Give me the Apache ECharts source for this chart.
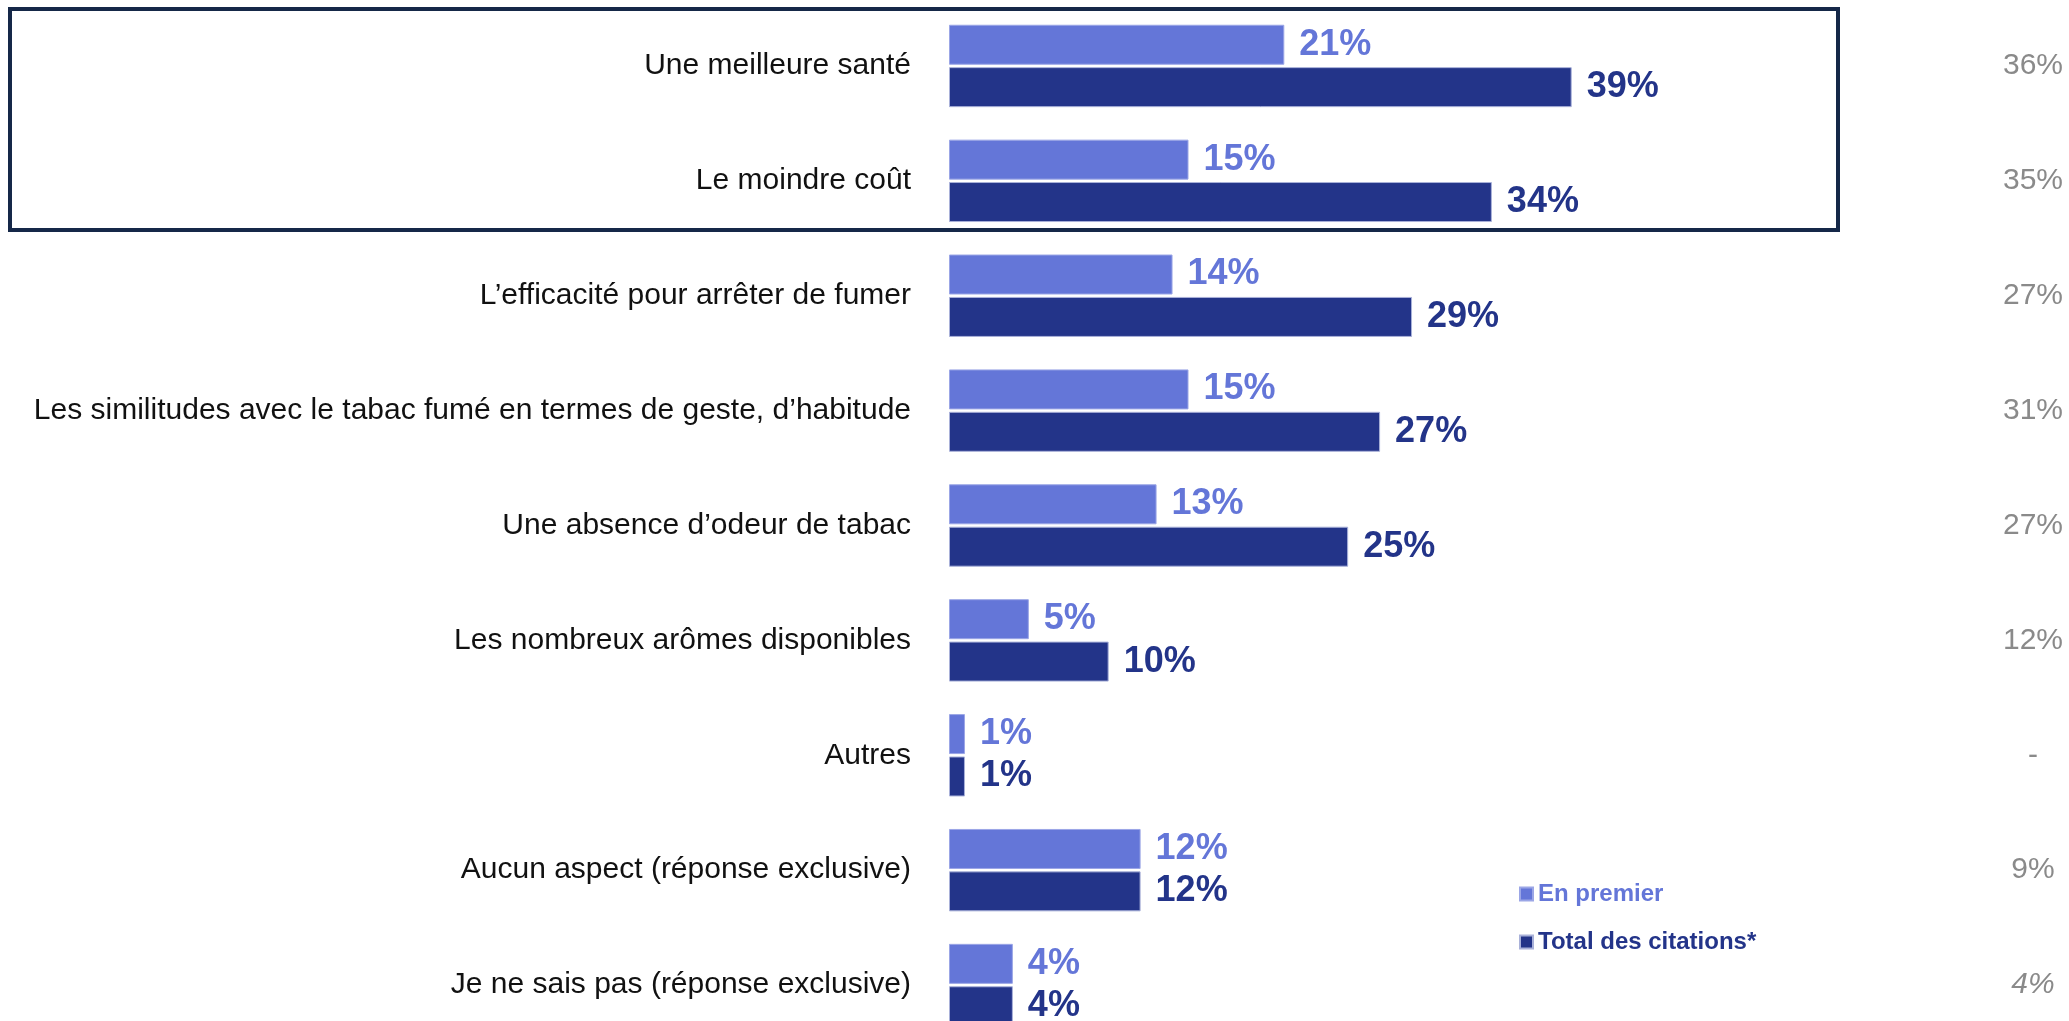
<!DOCTYPE html>
<html lang="fr">
<head>
<meta charset="utf-8">
<title>Aspects appréciés</title>
<script src="https://cdn.jsdelivr.net/npm/echarts@6/dist/echarts.min.js"></script>
<style>
  html, body { margin: 0; padding: 0; background: #ffffff; }
  #chart { width: 2069px; height: 1021px; }
</style>
</head>
<body>
<div id="chart"></div>
<script>
// Catégories (de haut en bas)
const categories = [
  'Une meilleure santé',
  'Le moindre coût',
  'L\u2019efficacité pour arrêter de fumer',
  'Les similitudes avec le tabac fumé en termes de geste, d\u2019habitude',
  'Une absence d\u2019odeur de tabac',
  'Les nombreux arômes disponibles',
  'Autres',
  'Aucun aspect (réponse exclusive)',
  'Je ne sais pas (réponse exclusive)'
];

// Réponse citée en premier (%)
const enPremier = [21, 15, 14, 15, 13, 5, 1, 12, 4];

// Total des citations (%)
const totalCitations = [39, 34, 29, 27, 25, 10, 1, 12, 4];

// Colonne de droite : résultats de la vague précédente (null = non posé)
const vaguePrecedente = [36, 35, 27, 31, 27, 12, null, 9, 4];
// Valeurs affichées en italique dans la colonne de droite
const italicRows = [8];

const seriesNames = ['En premier', 'Total des citations*'];

const FONT = '"Liberation Sans", Arial, Helvetica, sans-serif';
const LIGHT = '#6476d8';
const DARK = '#233489';
const GREY = '#8a8a8a';

const chart = echarts.init(document.getElementById('chart'), null, { renderer: 'canvas' });

function barSeries(name, data, color, border) {
  return {
    type: 'bar',
    name: name,
    data: data,
    barWidth: 40,
    barGap: '6%',
    itemStyle: { color: color, borderColor: border, borderWidth: 1 },
    label: {
      show: true,
      position: 'right',
      distance: 15,
      formatter: '{c}%',
      fontFamily: FONT,
      fontSize: 36,
      fontWeight: 'bold',
      color: color
    }
  };
}

chart.setOption({
  animation: false,
  backgroundColor: '#ffffff',
  grid: {
    left: 949, top: 8.5, width: 958, height: 1034,
    containLabel: false,
    outerBoundsMode: 'none'
  },
  xAxis: { type: 'value', min: 0, max: 60, show: false },
  yAxis: [
    {
      type: 'category',
      inverse: true,
      data: categories,
      axisLine: { show: false },
      axisTick: { show: false },
      splitLine: { show: false },
      axisLabel: {
        interval: 0,
        margin: 38,
        fontFamily: FONT,
        fontSize: 30,
        color: '#111111'
      }
    },
    {
      type: 'category',
      inverse: true,
      position: 'right',
      data: categories,
      axisLine: { show: false },
      axisTick: { show: false },
      splitLine: { show: false },
      axisLabel: {
        interval: 0,
        margin: 126,
        align: 'center',
        fontFamily: FONT,
        fontSize: 30,
        color: GREY,
        formatter: function (value, index) {
          const v = vaguePrecedente[index];
          const txt = (v === null || v === undefined) ? '-' : v + '%';
          return italicRows.indexOf(index) >= 0 ? '{it|' + txt + '}' : txt;
        },
        rich: {
          it: { fontFamily: FONT, fontSize: 30, fontStyle: 'italic', color: GREY }
        }
      }
    }
  ],
  legend: {
    orient: 'vertical',
    left: 1514,
    top: 875,
    itemWidth: 13,
    itemHeight: 13,
    itemGap: 20,
    icon: 'rect',
    selectedMode: false,
    textStyle: { fontFamily: FONT, fontSize: 24, fontWeight: 'bold', lineHeight: 28 },
    data: [
      { name: seriesNames[0], textStyle: { color: LIGHT } },
      { name: seriesNames[1], textStyle: { color: DARK } }
    ]
  },
  graphic: [
    {
      type: 'rect',
      silent: true,
      shape: { x: 10, y: 9, width: 1828, height: 221 },
      style: { fill: 'none', stroke: '#152848', lineWidth: 4 },
      z: 10
    }
  ],
  series: [
    barSeries(seriesNames[0], enPremier, LIGHT, '#9ba6e6'),
    barSeries(seriesNames[1], totalCitations, DARK, '#a9b1d9')
  ]
});
</script>
</body>
</html>
